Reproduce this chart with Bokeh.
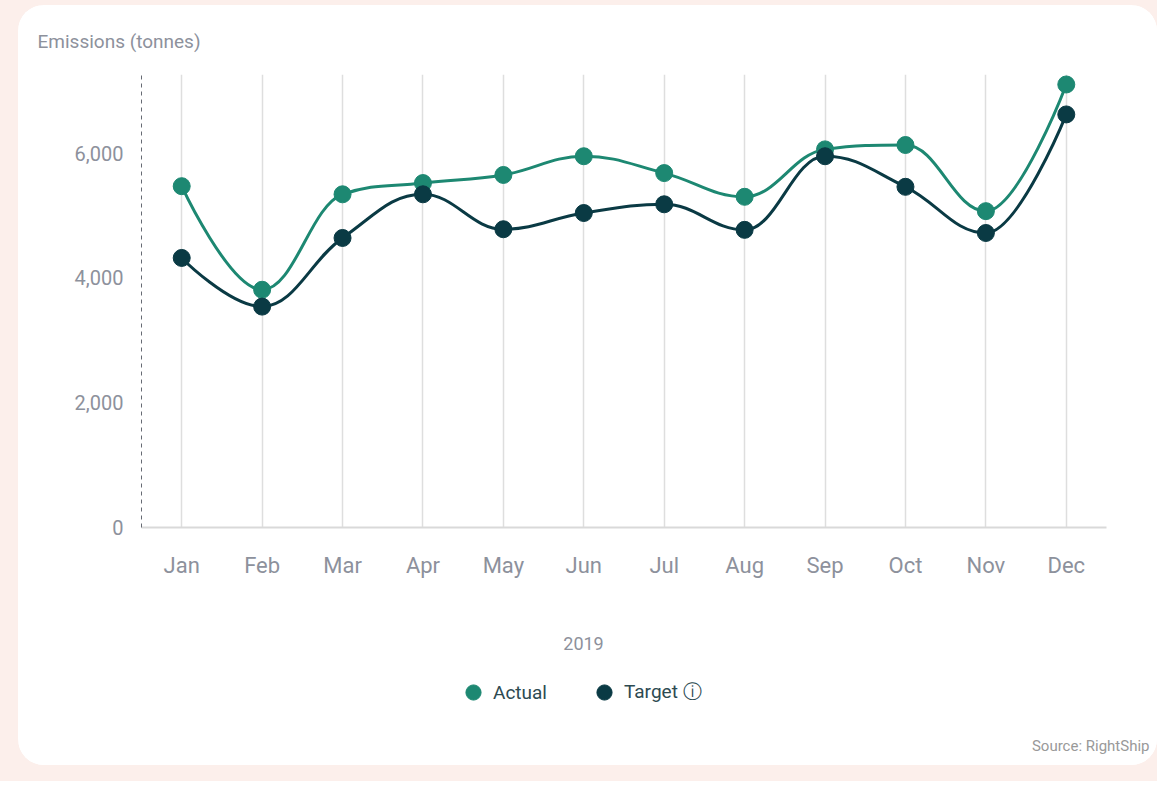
from bokeh.plotting import figure
from bokeh.models import (Range1d, FixedTicker, NumeralTickFormatter, Title, Legend,
                          LegendItem, ColumnDataSource, Label)
from bokeh.layouts import column
from bokeh.embed import file_html
from bokeh.resources import INLINE

months = ["Jan", "Feb", "Mar", "Apr", "May", "Jun", "Jul", "Aug", "Sep", "Oct", "Nov", "Dec"]
actual = [5470, 3810, 5340, 5520, 5650, 5950, 5680, 5300, 6060, 6130, 5070, 7100]
target = [4320, 3540, 4640, 5340, 4780, 5040, 5180, 4770, 5950, 5460, 4720, 6620]
y_ticks = [0, 2000, 4000, 6000]
series_names = ["Actual", "Target ⓘ"]

ACTUAL_C = "#1d8872"
TARGET_C = "#0a3a44"
GREY = "#8d919c"
FONT = "Roboto"


def spline_segments(ys, smoothing=1.5):
    """Highcharts-style spline control points, in data space."""
    xs = list(range(len(ys)))
    n = len(ys)
    right = [None] * n
    left = [None] * n
    denom = smoothing + 1
    for i in range(1, n - 1):
        px, py = xs[i], ys[i]
        lx, ly = xs[i - 1], ys[i - 1]
        nx, ny = xs[i + 1], ys[i + 1]
        lcx = (smoothing * px + lx) / denom
        lcy = (smoothing * py + ly) / denom
        rcx = (smoothing * px + nx) / denom
        rcy = (smoothing * py + ny) / denom
        corr = ((rcy - lcy) * (rcx - px)) / (rcx - lcx) + py - rcy
        lcy += corr
        rcy += corr
        if lcy > ly and lcy > py:
            lcy = max(ly, py); rcy = 2 * py - lcy
        elif lcy < ly and lcy < py:
            lcy = min(ly, py); rcy = 2 * py - lcy
        if rcy > ny and rcy > py:
            rcy = max(ny, py); lcy = 2 * py - rcy
        elif rcy < ny and rcy < py:
            rcy = min(ny, py); lcy = 2 * py - rcy
        left[i] = (lcx, lcy)
        right[i] = (rcx, rcy)
    d = dict(x0=[], y0=[], x1=[], y1=[], cx0=[], cy0=[], cx1=[], cy1=[])
    for i in range(1, n):
        c0 = right[i - 1] if right[i - 1] else (xs[i - 1], ys[i - 1])
        c1 = left[i] if left[i] else (xs[i], ys[i])
        d["x0"].append(xs[i - 1]); d["y0"].append(ys[i - 1])
        d["x1"].append(xs[i]); d["y1"].append(ys[i])
        d["cx0"].append(c0[0]); d["cy0"].append(c0[1])
        d["cx1"].append(c1[0]); d["cy1"].append(c1[1])
    return d


# ---------------- main chart ----------------
p = figure(width=1139, height=595, x_range=Range1d(-0.5, 11.5), y_range=Range1d(0, 7260),
           output_backend="svg", toolbar_location=None, title=None,
           min_border_left=123, min_border_right=51, min_border_top=68, min_border_bottom=73)
p.border_fill_color = "white"
p.background_fill_color = "white"
p.outline_line_color = None

p.xaxis.ticker = FixedTicker(ticks=list(range(len(months))))
p.xaxis.major_label_overrides = {i: m for i, m in enumerate(months)}
p.xaxis.major_tick_line_color = None
p.xaxis.minor_tick_line_color = None
p.xaxis.axis_line_color = "#d9d9d9"
p.xaxis.axis_line_width = 2
p.xaxis.major_label_standoff = 19
p.xaxis.major_label_text_font = FONT
p.xaxis.major_label_text_font_size = "22px"
p.xaxis.major_label_text_color = GREY

p.yaxis.ticker = FixedTicker(ticks=y_ticks)
p.yaxis.formatter = NumeralTickFormatter(format="0,0")
p.yaxis.major_tick_line_color = None
p.yaxis.minor_tick_line_color = None
p.yaxis.axis_line_color = "#666a73"
p.yaxis.axis_line_dash = "4 4"
p.yaxis.axis_line_width = 1
p.yaxis.major_label_standoff = 12
p.yaxis.major_label_text_font = FONT
p.yaxis.major_label_text_font_size = "20px"
p.yaxis.major_label_text_color = GREY

p.xgrid.grid_line_color = "#dedede"
p.xgrid.grid_line_width = 1.5
p.ygrid.visible = False

xs = list(range(len(months)))
sa = ColumnDataSource(spline_segments(actual))
st = ColumnDataSource(spline_segments(target))
p.bezier("x0", "y0", "x1", "y1", "cx0", "cy0", "cx1", "cy1", source=sa,
         line_color=ACTUAL_C, line_width=3)
p.bezier("x0", "y0", "x1", "y1", "cx0", "cy0", "cx1", "cy1", source=st,
         line_color=TARGET_C, line_width=3)
p.scatter(xs, actual, size=17, fill_color=ACTUAL_C, line_color=ACTUAL_C)
p.scatter(xs, target, size=17, fill_color=TARGET_C, line_color=TARGET_C)

p.add_layout(Title(text="Emissions (tonnes)", align="left", offset=-104, standoff=44,
                   text_font=FONT, text_font_size="19px", text_font_style="normal",
                   text_color=GREY), "above")

# ---------------- footer (x caption, legend, source) ----------------
f = figure(width=1139, height=165, x_range=Range1d(0, 1), y_range=Range1d(0, 1),
           output_backend="svg", toolbar_location=None, x_axis_type=None, y_axis_type=None,
           min_border=0, min_border_left=0, min_border_right=0, min_border_top=0,
           min_border_bottom=0)
f.border_fill_color = "white"
f.background_fill_color = "white"
f.outline_line_color = None
f.grid.visible = False

f.add_layout(Title(text="Source: RightShip", align="right", offset=-43, standoff=20,
                   vertical_align="middle",
                   text_font=FONT, text_font_size="15px", text_font_style="normal",
                   text_color="#999999"), "below")

nan = float("nan")
la = f.scatter(x=[nan], y=[nan], fill_color=ACTUAL_C, line_color=ACTUAL_C)
lt = f.scatter(x=[nan], y=[nan], fill_color=TARGET_C, line_color=TARGET_C)
legend = Legend(items=[LegendItem(label=series_names[0], renderers=[la]),
                       LegendItem(label=series_names[1], renderers=[lt])],
                orientation="horizontal", location=(313, 14),
                glyph_width=38, glyph_height=38, label_standoff=1, spacing=38,
                padding=0, margin=0, border_line_color=None, background_fill_alpha=0,
                label_text_font=FONT, label_text_font_size="19px", label_text_color="#2d4a51")
f.add_layout(legend, "center")

f.add_layout(Label(x=442, y=82, x_units="screen", y_units="screen", text="2019",
                   text_font=FONT, text_font_size="18px", text_color=GREY,
                   text_baseline="middle", text_align="center"))

card = column(p, f, spacing=0,
              styles={"background-color": "white", "border-radius": "26px", "overflow": "hidden"})
layout = column(card, styles={"background-color": "#fcefeb", "padding": "5px 0px 16px 18px"})

open("out.html", "w").write(file_html(layout, INLINE))
